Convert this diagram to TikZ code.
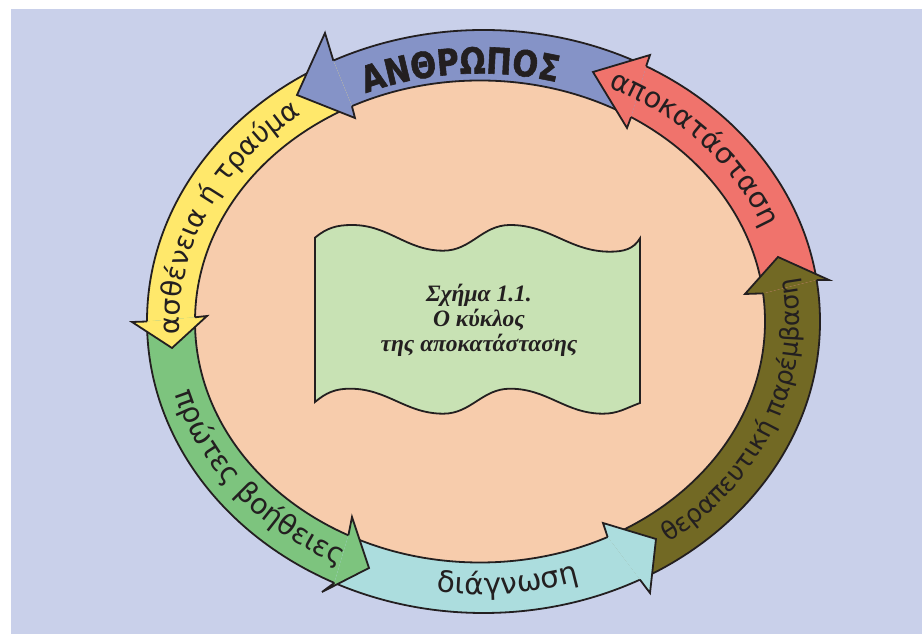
\documentclass[tikz,border=0pt]{standalone}
\usepackage{fontspec}
\usetikzlibrary{calc,decorations.text}
\newfontfamily\lblfont{DejaVu Sans}
\newfontfamily\bigfont{DejaVu Sans}[FakeStretch=0.84,BoldFeatures={FakeBold=1.6}]
\newfontfamily\capfont{Liberation Serif}
\definecolor{bgc}{RGB}{201,208,234}
\definecolor{peach}{RGB}{247,204,172}
\definecolor{blueA}{RGB}{133,147,199}
\definecolor{redA}{RGB}{240,115,108}
\definecolor{brownA}{RGB}{114,105,36}
\definecolor{cyanA}{RGB}{172,221,222}
\definecolor{greenA}{RGB}{125,196,126}
\definecolor{yellowA}{RGB}{255,232,107}
\definecolor{bannerc}{RGB}{200,226,180}
\definecolor{olc}{RGB}{35,31,32}
% ring sector: colour, outer start, outer end, inner start, inner end
\newcommand{\ringsector}[5]{%
  \fill[#1] ($(Co)+(#2:336.5 and 291.5)$) arc[start angle=#2,end angle=#3,x radius=336.5,y radius=291.5]
    -- ($(Ci)+(#5:285 and 241)$) arc[start angle=#5,end angle=#4,x radius=285,y radius=241] -- cycle;}
% arrow head: colour, outer base angle, inner base angle, outer barb, tip, inner barb
\newcommand{\headshape}[6]{%
  \fill[#1] ($(Co)+(#2:336.5 and 291.5)$) -- #4 -- #5 -- #6 -- ($(Ci)+(#3:285 and 241)$) -- cycle;
  \draw[outl] ($(Co)+(#2:336.5 and 291.5)$) -- #4 -- #5 -- #6 -- ($(Ci)+(#3:285 and 241)$);}
\begin{document}
\begin{tikzpicture}[x=1pt,y=1pt,line join=miter,
  outl/.style={draw=olc,line width=1.8},
  lbl/.style 2 args={decorate,decoration={text along path,text align=center,text color=olc,text={|\lblfont\fontsize{#1}{#1}\selectfont|#2}}}]
\useasboundingbox (0,0) rectangle (922,634);
\fill[white] (0,0) rectangle (922,634);
\fill[bgc] (11,0) rectangle (922,625);
\coordinate (Co) at (483.5,312.5);
\coordinate (Ci) at (480,312.5);
\coordinate (Cm) at (481.75,312.5);
% interior
\fill[peach] (Ci) ellipse[x radius=285,y radius=241];
% ring
\ringsector{brownA}{-62.3}{8.2}{-63.4}{6.7}
\ringsector{redA}{8.2}{61.1}{6.7}{58.0}
\ringsector{blueA}{61.1}{116.5}{58.0}{116.7}
\ringsector{yellowA}{116.5}{180}{116.7}{179}
\ringsector{greenA}{180}{243.7}{179}{242.5}
\ringsector{cyanA}{243.7}{297.7}{242.5}{296.6}
\draw[outl] (Co) ellipse[x radius=336.5,y radius=291.5];
\draw[outl] (Ci) ellipse[x radius=285,y radius=241];
% heads
\headshape{redA}{61.1}{58.0}{(650,579)}{(593,562)}{(627,506)}
\headshape{blueA}{116.5}{116.7}{(325,601)}{(297,539)}{(355,516)}
\headshape{yellowA}{180}{179}{(132,312)}{(172,286)}{(207,318)}
\headshape{greenA}{243.7}{242.5}{(322,42)}{(369,66)}{(352,117)}
\headshape{cyanA}{297.7}{296.6}{(650,41)}{(656,95)}{(603,111)}
\headshape{brownA}{8.2}{6.7}{(829,354)}{(778,377)}{(745,340)}
% banner
\filldraw[fill=bannerc,outl] (315,396.3) to[out=40,in=180] (352,409) to[out=0,in=180] (443.3,383.3)
  to[out=0,in=180] (510,409) to[out=0,in=180] (610,382.3) to[out=0,in=-120] (640,395.7)
  -- (640,231) to[out=-160,in=0] (603,220.3) to[out=180,in=0] (510,245.3)
  to[out=180,in=0] (443.3,220.3) to[out=180,in=0] (350,245.3) to[out=180,in=40] (315,232) -- cycle;
\node[font=\capfont\bfseries\itshape\fontsize{23.5}{25}\selectfont,align=center,text=olc] (caption) at (479,314)
  {Σχήμα 1.1.\\Ο κύκλος\\της αποκατάστασης};
% labels
\path[decorate,decoration={text along path,text align=center,text color=olc,
  text={|\bigfont\bfseries\fontsize{36}{36}\selectfont|ΑΝΘΡΩΠΟΣ}}]
  ($(Ci)+(125:292 and 248)$) arc[start angle=125,end angle=63,x radius=292,y radius=248];
\path[lbl={28.5}{αποκατάσταση}] ($(Cm)+(75:302 and 258)$) arc[start angle=75,end angle=10,x radius=302,y radius=258];
\path[lbl={27.5}{ασθένεια ή τραύμα}] ($(Cm)+(188:302 and 258)$) arc[start angle=188,end angle=122,x radius=302,y radius=258];
\path[lbl={28.5}{πρώτες βοήθειες}] ($(Cm)+(189:318 and 273)$) arc[start angle=189,end angle=249,x radius=318,y radius=273];
\path[lbl={29.5}{διάγνωση}] ($(Cm)+(245:318 and 273)$) arc[start angle=245,end angle=305,x radius=318,y radius=273];
\path[lbl={25.5}{θεραπευτική παρέμβαση}] ($(Cm)+(298:318 and 273)$) arc[start angle=298,end angle=378,x radius=318,y radius=273];
\end{tikzpicture}
\end{document}
